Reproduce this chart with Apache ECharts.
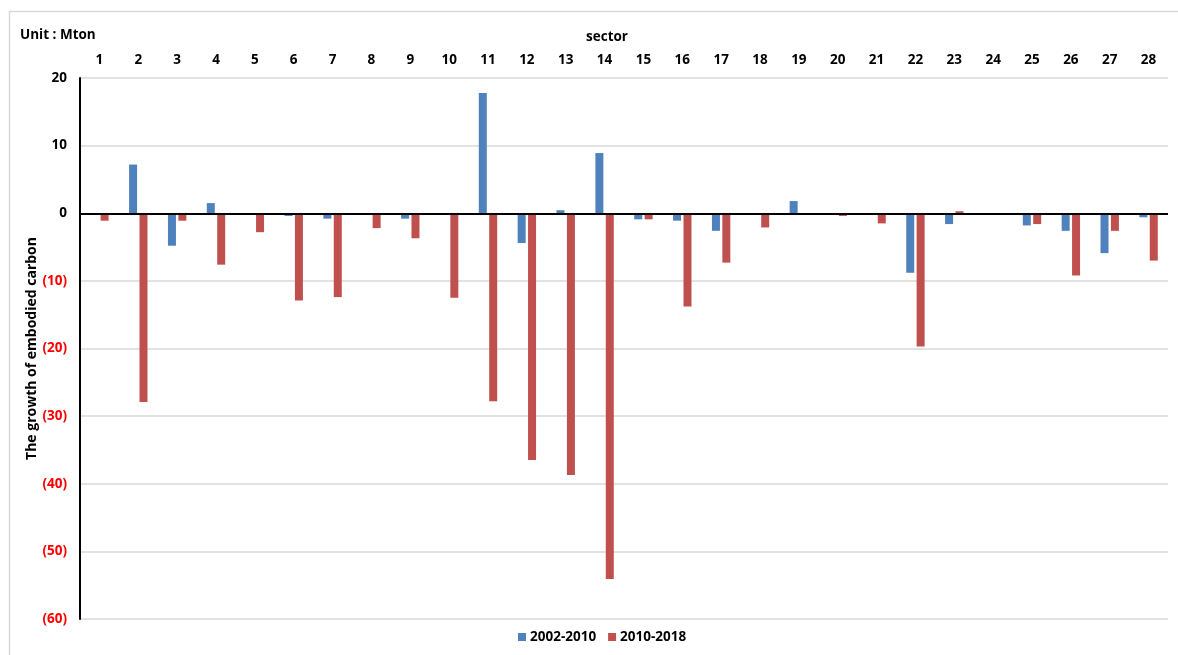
<!DOCTYPE html>
<html>
<head>
<meta charset="utf-8">
<script src="https://cdn.jsdelivr.net/npm/echarts@6/dist/echarts.min.js"></script>
<style>
html,body{margin:0;padding:0;background:#fff;}
#chart{width:1178px;height:655px;}
</style>
</head>
<body>
<div id="chart"></div>
<script>
const sectors = ['1','2','3','4','5','6','7','8','9','10','11','12','13','14','15','16','17','18','19','20','21','22','23','24','25','26','27','28'];
const s2002_2010 = [0, 7.2, -4.8, 1.5, 0, -0.4, -0.8, 0, -0.8, 0, 17.8, -4.4, 0.45, 8.9, -0.9, -1.1, -2.6, 0, 1.8, 0, 0, -8.8, -1.6, 0, -1.8, -2.6, -5.9, -0.6];
const s2010_2018 = [-1.1, -27.9, -1.1, -7.6, -2.8, -12.9, -12.4, -2.2, -3.7, -12.5, -27.8, -36.5, -38.7, -54.1, -0.9, -13.8, -7.3, -2.1, 0, -0.4, -1.5, -19.7, 0.3, 0, -1.6, -9.2, -2.6, -7.0];
const seriesNames = ['2002-2010', '2010-2018'];
const yTicks = {min: -60, max: 20, interval: 10};

const FONT = '"Open Sans", "Liberation Sans", sans-serif';
const chart = echarts.init(document.getElementById('chart'), null, {renderer: 'canvas'});
chart.setOption({
  backgroundColor: '#ffffff',
  animation: false,
  color: ['#4F81BD', '#C0504D'],
  graphic: [
    {type: 'rect', shape: {x: 9.5, y: 11.5, width: 1300, height: 800}, style: {fill: 'none', stroke: '#D9D9D9', lineWidth: 1.5}, silent: true, z: -1},
    {type: 'text', left: 20, top: 28, style: {text: 'Unit : Mton', font: 'bold 13.5px ' + FONT, fill: '#000'}},
    {type: 'text', x: 607, y: 37, style: {text: 'sector', font: 'bold 13.5px ' + FONT, fill: '#000', align: 'center', verticalAlign: 'middle'}}
  ],
  grid: {left: 80, right: 10, top: 78, bottom: 36, containLabel: false},
  legend: {
    data: seriesNames,
    bottom: 6,
    left: 513,
    icon: 'rect',
    itemWidth: 8,
    itemHeight: 8,
    itemGap: 12,
    textStyle: {fontFamily: FONT, fontWeight: 'bold', fontSize: 13.5, color: '#000', padding: [0, 0, 0, -1]}
  },
  xAxis: {
    type: 'category',
    data: sectors,
    position: 'top',
    axisLine: {show: false},
    axisTick: {show: false},
    axisLabel: {fontFamily: FONT, fontWeight: 'bold', fontSize: 13.5, color: '#000', margin: 11, interval: 0},
    splitLine: {show: false}
  },
  yAxis: {
    type: 'value',
    min: yTicks.min,
    max: yTicks.max,
    interval: yTicks.interval,
    name: 'The growth of embodied carbon',
    nameLocation: 'middle',
    nameGap: 41,
    nameMoveOverlap: false,
    nameTextStyle: {fontFamily: FONT, fontWeight: 'bold', fontSize: 14, color: '#000'},
    axisLine: {show: true, onZero: false, lineStyle: {color: '#000', width: 2}},
    axisTick: {show: false},
    axisLabel: {
      fontFamily: FONT, fontWeight: 'bold', fontSize: 13.5, margin: 13,
      color: function (v) { return Number(v) < 0 ? '#FF0000' : '#000000'; },
      formatter: function (v) { return v < 0 ? '(' + (-v) + ')' : String(v); }
    },
    splitLine: {show: true, lineStyle: {color: '#D9D9D9', width: 1.5}}
  },
  series: [
    {
      name: seriesNames[0], type: 'bar', data: s2002_2010,
      barWidth: 8, barGap: '30%',
      itemStyle: {color: '#4F81BD'},
      markLine: {
        silent: true, symbol: 'none', label: {show: false},
        lineStyle: {color: '#000', width: 2, type: 'solid'},
        data: [{yAxis: 0}]
      },
      z: 2
    },
    {
      name: seriesNames[1], type: 'bar', data: s2010_2018,
      barWidth: 8, barGap: '30%',
      itemStyle: {color: '#C0504D'},
      z: 2
    }
  ]
});
</script>
</body>
</html>
